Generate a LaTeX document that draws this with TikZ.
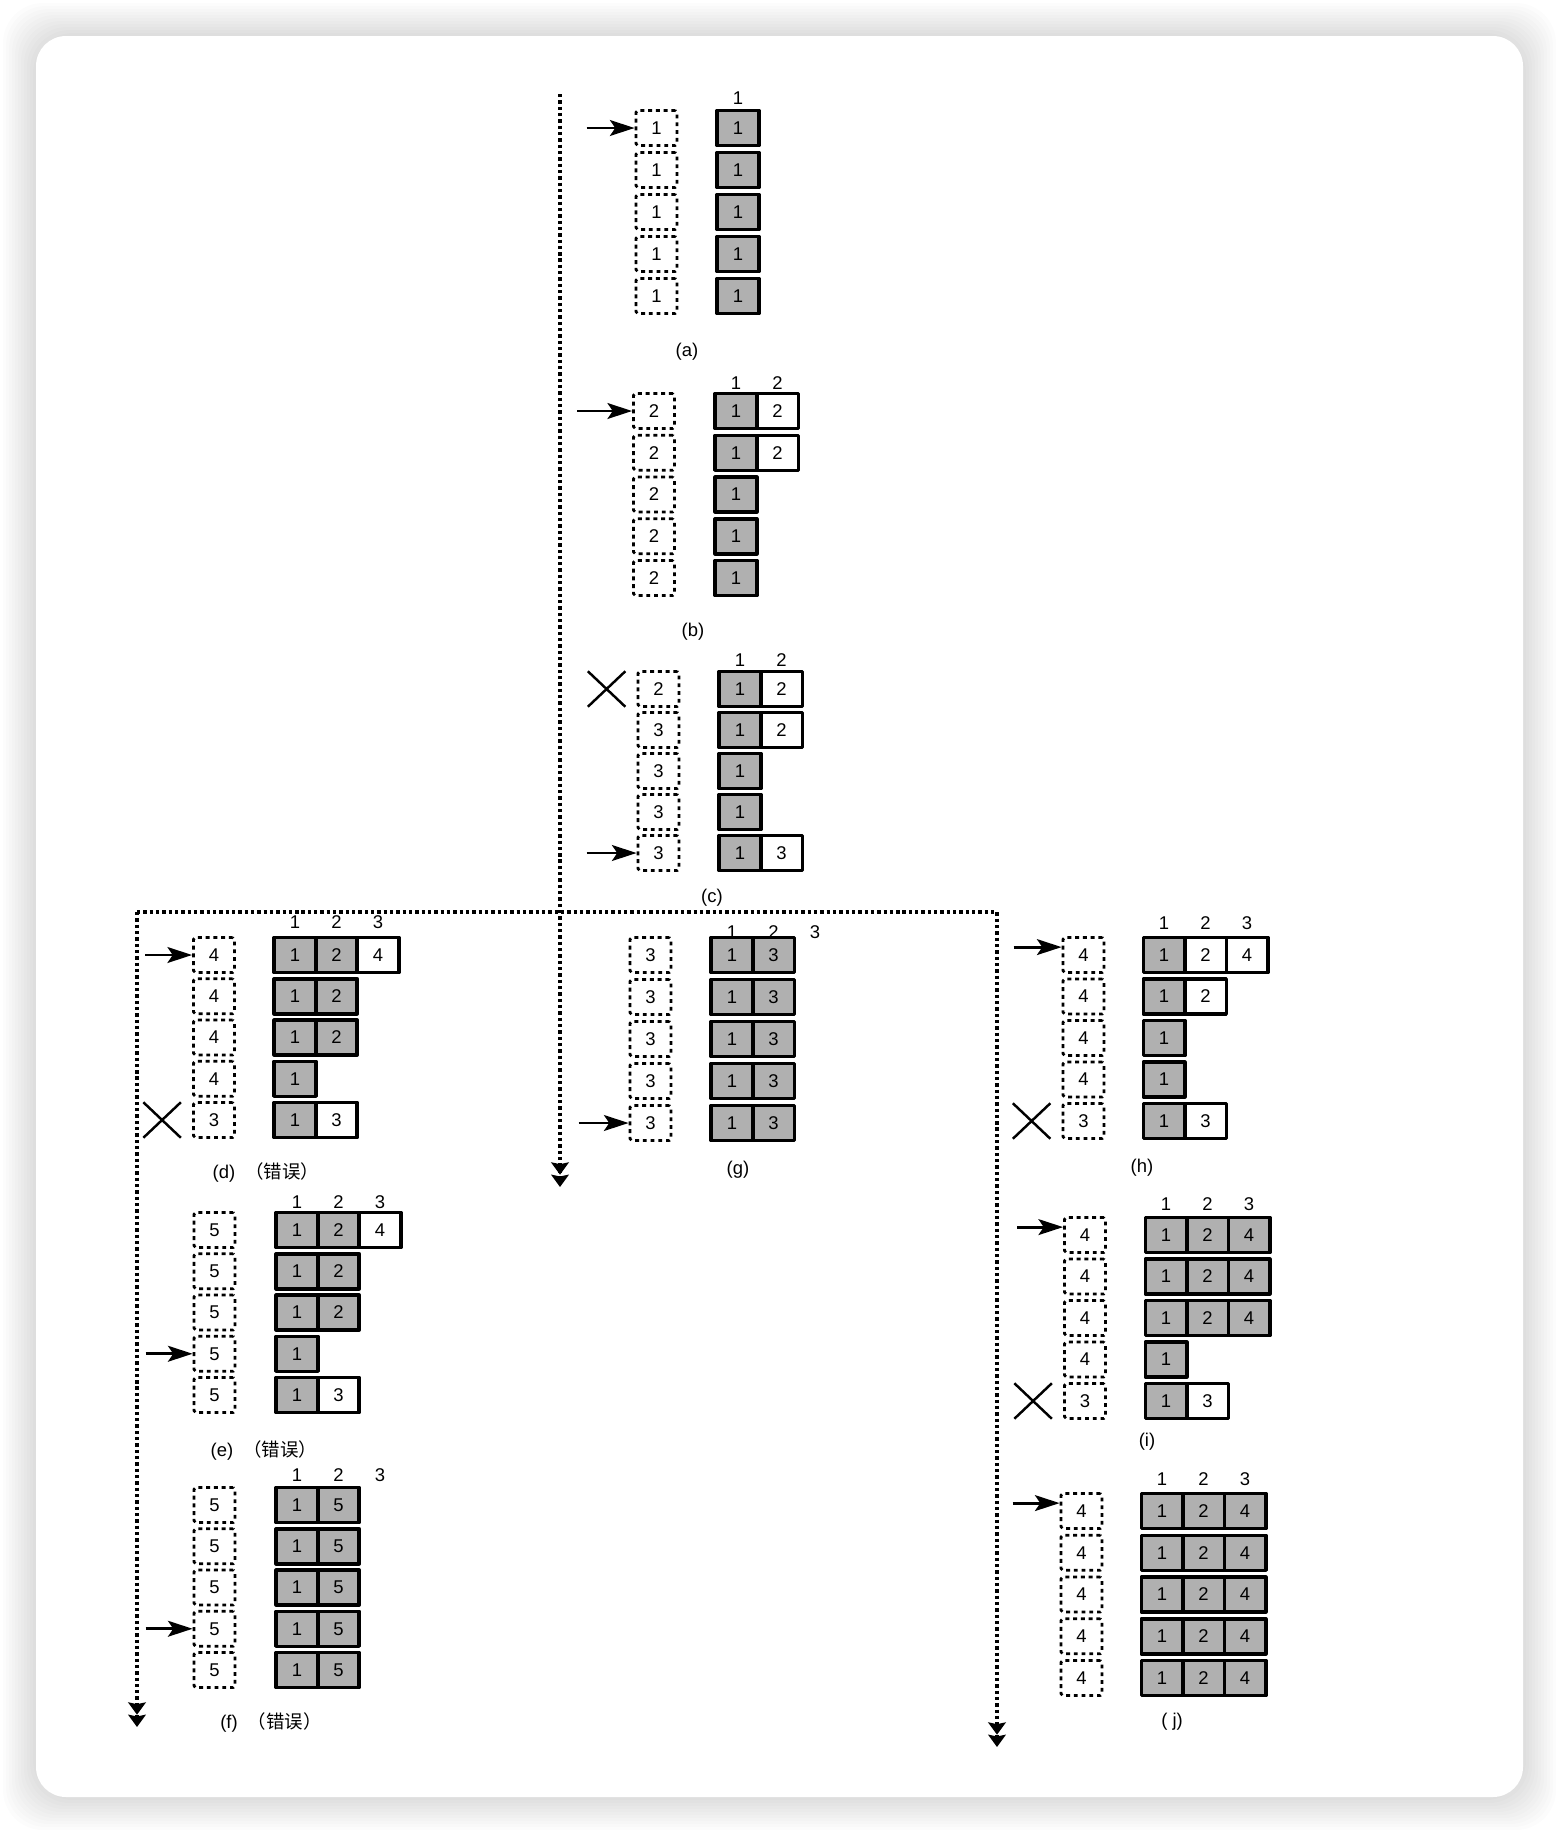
\documentclass[tikz,border=0pt]{standalone}
\usepackage{fontspec}
\setmainfont{Liberation Sans}
\newfontfamily\cjk{Noto Sans CJK SC}
\usetikzlibrary{arrows.meta,shapes.misc}
\definecolor{cellgray}{gray}{0.69}
\begin{document}
\begin{tikzpicture}[x=0.2mm, y=-0.2mm, line join=round, font=\fontsize{10.5}{12}\selectfont,
	slot/.style={draw, line width=1.6pt, dash pattern=on 2.2pt off 2.2pt, rounded corners=1pt, minimum width=8.2mm, minimum height=7mm, inner sep=0pt},
	cell/.style={draw, line width=2pt, minimum width=8.3mm, minimum height=7mm, inner sep=0pt},
	gc/.style={cell, fill=cellgray}, wc/.style={cell, fill=white},
	xmark/.style={draw, cross out, line width=1.4pt, minimum width=7mm, minimum height=6.6mm, inner sep=0pt},
	push/.style={line width=1.6pt, -{Stealth[length=14pt, width=9pt, inset=3pt]}},
	track/.style={line width=1.9pt, dash pattern=on 1.9pt off 1.7pt, -{Stealth[length=7pt, width=10pt, inset=1pt]Stealth[length=7pt, width=10pt, inset=1pt]}}]
	\useasboundingbox (0,0) rectangle (1558,1832);
	\foreach \k in {0,...,11}
	\fill[black, opacity=0.013, rounded corners=8mm] ({36-\k*3},{36-\k*3}) rectangle ({1523+\k*3},{1797+\k*3});
	\fill[white, rounded corners=6mm] (36,36) rectangle (1523,1797);
	% search tracks
	\path
	(560,94) coordinate (top)
	(560,1187) coordinate (mid-end)
	(137,912) coordinate (fork-l)
	(997,912) coordinate (fork-r)
	(137,1727) coordinate (left-end)
	(997,1747) coordinate (right-end);
	\draw[track] (top) -- (mid-end);
	\draw[track] (fork-l) -- (left-end);
	\draw[track] (fork-l) -- (fork-r) -- (right-end);
	% panels: name / slot x / grid x / top / row pitch / header y / header count / slots / rows
	\foreach \p/\xs/\xg/\t/\d/\hy/\nh/\vals/\rows in {
		a/656.5/717/110/42/98/1/{1,1,1,1,1}/{{1/gc},{1/gc},{1/gc},{1/gc},{1/gc}},
		b/654/715/393/41.75/383/2/{2,2,2,2,2}/{{1/gc,2/wc},{1/gc,2/wc},{1/gc},{1/gc},{1/gc}},
		c/658.5/719/671/41/660/2/{2,3,3,3,3}/{{1/gc,2/wc},{1/gc,2/wc},{1/gc},{1/gc},{1/gc,3/wc}},
		d/214/274/937/41.25/922/3/{4,4,4,4,3}/{{1/gc,2/gc,4/wc},{1/gc,2/gc},{1/gc,2/gc},{1/gc},{1/gc,3/wc}},
		e/214.5/276/1212/41.25/1202/3/{5,5,5,5,5}/{{1/gc,2/gc,4/wc},{1/gc,2/gc},{1/gc,2/gc},{1/gc},{1/gc,3/wc}},
		f/214.5/276/1487/41.25/1475/3/{5,5,5,5,5}/{{1/gc,5/gc},{1/gc,5/gc},{1/gc,5/gc},{1/gc,5/gc},{1/gc,5/gc}},
		g/650.5/711/937/42/932/3/{3,3,3,3,3}/{{1/gc,3/gc},{1/gc,3/gc},{1/gc,3/gc},{1/gc,3/gc},{1/gc,3/gc}},
		h/1083.5/1143/937/41.5/923/3/{4,4,4,4,3}/{{1/gc,2/wc,4/wc},{1/gc,2/wc},{1/gc},{1/gc},{1/gc,3/wc}},
		i/1085/1145/1217/41.5/1204/3/{4,4,4,4,3}/{{1/gc,2/gc,4/gc},{1/gc,2/gc,4/gc},{1/gc,2/gc,4/gc},{1/gc},{1/gc,3/wc}},
		j/1081.5/1141/1493/41.75/1479/3/{4,4,4,4,4}/{{1/gc,2/gc,4/gc},{1/gc,2/gc,4/gc},{1/gc,2/gc,4/gc},{1/gc,2/gc,4/gc},{1/gc,2/gc,4/gc}}}{
		\foreach \v [count=\i] in \vals
		\node[slot] (\p\i) at (\xs,{\t+18+(\i-1)*\d}) {\v};
		\foreach \row [count=\r] in \rows
		\foreach \v/\s [count=\c] in \row
		\node[\s] (\p-\r-\c) at ({\xg+21+(\c-1)*41.5},{\t+18+(\r-1)*\d}) {\v};
		\foreach \k in {1,...,\nh}
		\node (\p-h\k) at ({\xg+21+(\k-1)*41.5},\hy) {\k};
	}
	\foreach \p/\x/\y/\txt in {a/687/352/(a), b/693/632/(b), c/712/898/(c), d/266/1172/{(d)\ \ {\cjk （错误）}}, e/264/1450/{(e)\ \ {\cjk （错误）}}, f/271/1722/{(f)\ \ {\cjk （错误）}}, g/738/1170/(g), h/1142/1168/(h), i/1147/1442/(i), j/1172/1722/{( j)}}
	\node (\p-cap) at (\x,\y) {\txt};
	% pointers and rejected slots
	\foreach \p/\r/\l/\dy in {a/1/48/0, b/1/55/0, c/5/50/0, d/1/47/0, e/4/47/0, f/4/47/0, g/5/50/0, h/1/48/4.5, i/1/46/4.5, j/1/47/4.5}{
		\path ([yshift=\dy pt]\p\r.west) coordinate (\p-tip) ++(-\l,0) coordinate (\p-in);
		\draw[push] (\p-in) -- (\p-tip);
	}
	\foreach \p/\r in {c/1, d/5, h/5, i/5}
	\node[xmark] (\p-x) at ([xshift=-6mm]\p\r.west) {};
\end{tikzpicture}
\end{document}
